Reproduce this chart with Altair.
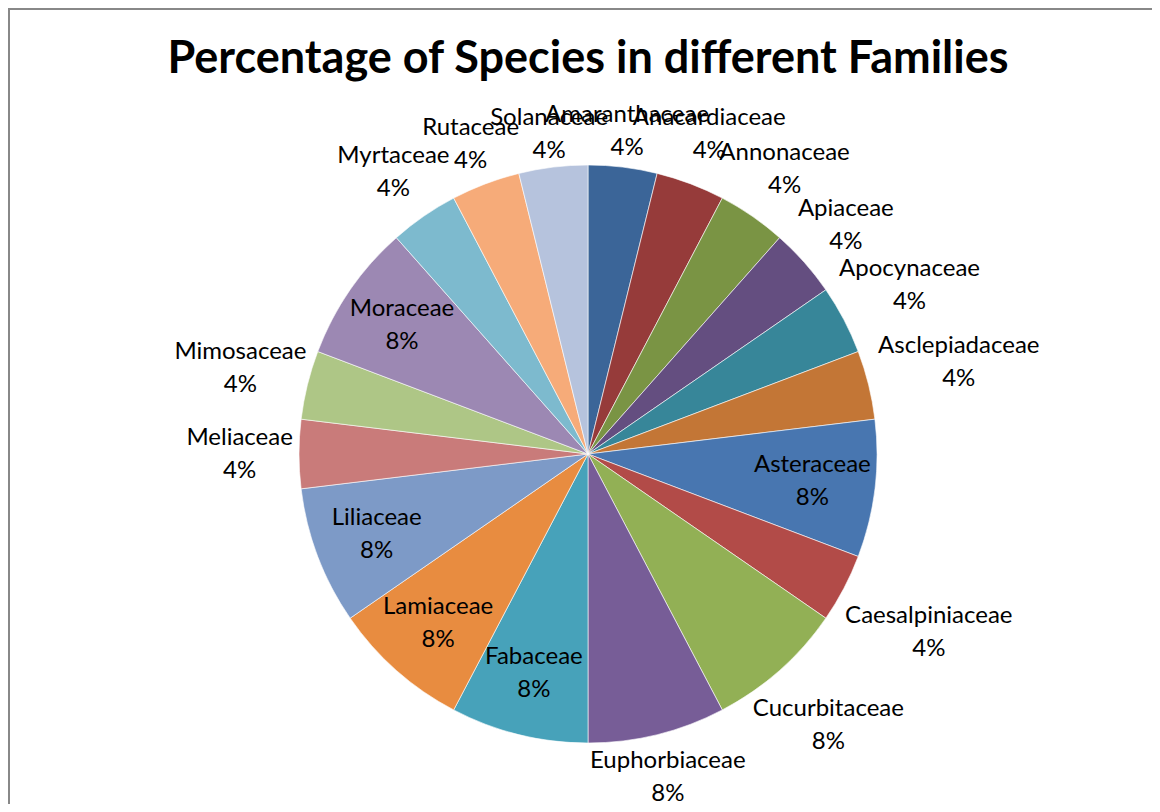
import math
import altair as alt
import pandas as pd

title_text = "Percentage of Species in different Families"
families = ["Amaranthaceae", "Anacardiaceae", "Annonaceae", "Apiaceae", "Apocynaceae",
            "Asclepiadaceae", "Asteraceae", "Caesalpiniaceae", "Cucurbitaceae", "Euphorbiaceae",
            "Fabaceae", "Lamiaceae", "Liliaceae", "Meliaceae", "Mimosaceae", "Moraceae",
            "Myrtaceae", "Rutaceae", "Solanaceae"]
counts = [1, 1, 1, 1, 1, 1, 2, 1, 2, 2, 2, 2, 2, 1, 1, 2, 1, 1, 1]
colors = ["#3B6598", "#963B3A", "#7A9444", "#644E80", "#378699", "#C37636",
          "#4876B0", "#B24B48", "#92B055", "#775D97", "#47A2BA", "#E88C40",
          "#7D9AC7", "#C97B7A", "#AEC686", "#9C88B3", "#7DBACE", "#F6AB79", "#B6C3DD"]

# layout parameters
W, H = 1144, 796
CX, CY = 580, 446
R = 289
INSIDE_R = 226
GAP = 4
HALF_H = 22
CHAR_W = 12.3
LINE_H = 33

total = sum(counts)
rows = []
cum = 0
for i, (f, c) in enumerate(zip(families, counts)):
    mid = (cum + c / 2) / total * 2 * math.pi
    cum += c
    pct = round(100 * c / total)
    inside = c == max(counts) and len(f) <= 10
    if inside:
        lr = INSIDE_R
    else:
        # label box placed just outside the rim
        s, co = abs(math.sin(mid)), abs(math.cos(mid))
        hw = len(f) * CHAR_W / 2
        lr = R + GAP + hw * s + HALF_H * co
    rows.append({"family": f, "count": c, "idx": i, "label": f"{f}\n{pct}%",
                 "lr": lr, "mid": mid})
df = pd.DataFrame(rows)

pie = alt.Chart(df).mark_arc(outerRadius=R, stroke="white", strokeWidth=0.6).encode(
    theta=alt.Theta("count:Q", stack=True),
    order=alt.Order("idx:Q"),
    x=alt.value(CX),
    y=alt.value(CY),
    color=alt.Color("family:N", scale=alt.Scale(domain=families, range=colors), legend=None),
)

labels = alt.Chart(df).mark_text(font="Lato", fontSize=24, lineBreak="\n", lineHeight=LINE_H,
                                 align="center", baseline="middle", color="black",
                                 dy=-LINE_H / 2).encode(
    theta=alt.Theta("mid:Q", scale=None, stack=False),
    radius=alt.Radius("lr:Q", scale=None),
    x=alt.value(CX),
    y=alt.value(CY),
    text="label:N",
)

title = alt.Chart(pd.DataFrame({"t": [title_text]})).mark_text(
    font="Lato", fontSize=45, fontWeight="bold", align="center", baseline="alphabetic", color="black"
).encode(text="t:N", x=alt.value(CX), y=alt.value(65))

frame = pd.DataFrame({"k": [0]})
left_line = alt.Chart(frame).mark_rule(color="#888888", strokeWidth=2).encode(
    x=alt.value(1), y=alt.value(0), y2=alt.value(H))
top_line = alt.Chart(frame).mark_rule(color="#888888", strokeWidth=2).encode(
    y=alt.value(1), x=alt.value(0), x2=alt.value(W))

chart = alt.layer(left_line, top_line, pie, labels, title).resolve_scale(theta="independent").properties(
    width=W, height=H, padding=0, autosize=alt.AutoSizeParams(type="none")
).configure_view(stroke=None).configure(background="white")

chart.save("out.html", embed_options={"renderer": "svg", "actions": False})
